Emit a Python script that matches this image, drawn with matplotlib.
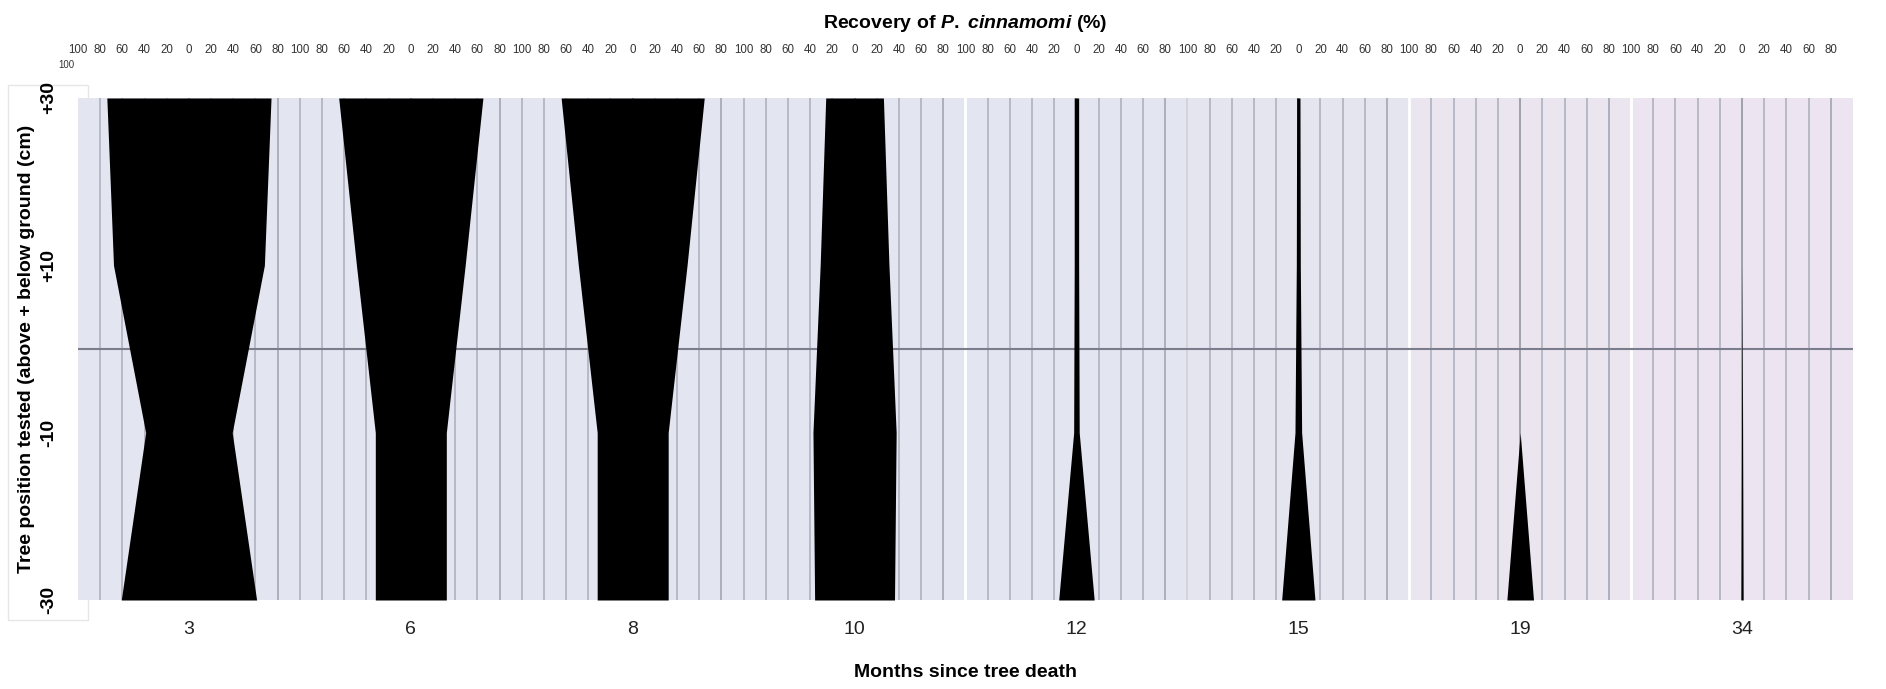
import matplotlib
matplotlib.use("Agg")
import matplotlib.pyplot as plt
from matplotlib.patches import Rectangle

plt.rcParams["font.family"] = ["Liberation Sans", "DejaVu Sans"]
plt.rcParams["mathtext.fontset"] = "custom"
plt.rcParams["mathtext.it"] = "Liberation Sans:italic:bold"
plt.rcParams["mathtext.rm"] = "Liberation Sans:bold"

# Months since tree death (one kite panel each)
months = [3, 6, 8, 10, 12, 15, 19, 34]
# Sampling positions on the tree (cm above + / below - ground)
positions = [30, 10, -10, -30]
position_labels = ["+30", "+10", "-10", "-30"]
# Recovery of P. cinnamomi (%) at each position, per month
rec_3 = [74, 68, 39, 61]
rec_6 = [65, 49, 32, 32]
rec_8 = [64.5, 49, 32, 32]
rec_10 = [26, 31, 37.5, 36]
rec_12 = [2, 2, 2.5, 16]
rec_15 = [1.5, 1.8, 3, 15]
rec_19 = [0, 0, 0, 12]
rec_34 = [0, 0, 0.5, 1.0]
recovery = [rec_3, rec_6, rec_8, rec_10, rec_12, rec_15, rec_19, rec_34]
# Percentage scale printed across the top of each panel
scale_values = [-100, -80, -60, -40, -20, 0, 20, 40, 60, 80]
scale_labels = [str(abs(v)) for v in scale_values]

panel_colors = ["#e3e5f1", "#e3e5f1", "#e3e5f1", "#e3e5f1", "#e3e5f1",
                "#e4e5ef", "#ebe5f0", "#ece4f0"]
grid_color = "#abadbb"
span = 200  # each panel runs from -100 to +100 around its centre

W, H = 1886, 689
fig = plt.figure(figsize=(W / 100, H / 100), dpi=100)
ax = fig.add_axes([78 / W, 89 / H, (1853 - 78) / W, 502 / H])

# faint frame behind the vertical axis title
fig.patches.append(Rectangle((8 / W, 69 / H), 80 / W, 535 / H, transform=fig.transFigure,
                             facecolor="white", edgecolor="#e6e6e6", lw=1.0, zorder=-1))

centers = []
for i, vals in enumerate(recovery):
    c = span * i + span / 2
    centers.append(c)
    ax.axvspan(span * i, span * (i + 1), color=panel_colors[i], lw=0, zorder=0)
    for k in scale_values[1:] + [80]:
        col = "#8c8e9c" if k == 0 else grid_color
        ax.axvline(c + k, color=col, lw=1.1, zorder=1)
    ax.fill_betweenx(positions, [c - v for v in vals], [c + v for v in vals],
                     color="black", lw=0, zorder=3)

# panel edges
for i in range(1, len(months)):
    if i < 4:
        ax.axvline(span * i, color=grid_color, lw=1.1, zorder=1)
    elif i == 5:
        ax.axvline(span * i, color="#d2d3dc", lw=1.4, zorder=2)
    else:
        ax.axvline(span * i, color="white", lw=2.0, zorder=2)

# ground level
ax.axhline(0, color="#7c7d8c", lw=1.5, zorder=2)

ax.set_xlim(0, span * len(months))
ax.set_ylim(-30, 30)
for s in ax.spines.values():
    s.set_visible(False)

ax.set_xticks(centers)
ax.set_xticklabels([str(m) for m in months], fontsize=14, color="#222222")
ax.tick_params(axis="x", length=0, pad=15)
ax.set_xlabel("Months since tree death", fontsize=14, fontweight="bold", labelpad=19)

ax.set_yticks(positions)
ax.set_yticklabels(position_labels, rotation=90, fontsize=14, fontweight="bold", va="center")
ax.tick_params(axis="y", length=0, pad=15)
ax.set_ylabel("Tree position tested (above + below ground (cm)", fontsize=14,
              fontweight="bold", labelpad=4)

top = ax.secondary_xaxis("top")
top_ticks = [c + v for c in centers for v in scale_values]
top.set_xticks(top_ticks)
top.set_xticklabels(scale_labels * len(months), fontsize=8.3, color="#333333")
top.tick_params(axis="x", length=0, pad=30)
for s in top.spines.values():
    s.set_visible(False)
top.set_xlabel(r"Recovery of $\mathit{P.\ cinnamomi}$ (%)", fontsize=14,
               fontweight="bold", labelpad=12)

ax.text(-0.0065, 1.066, "100", transform=ax.transAxes, fontsize=7, color="#333333",
        ha="center", va="center")

fig.savefig("out.png", dpi=100, facecolor="white")
